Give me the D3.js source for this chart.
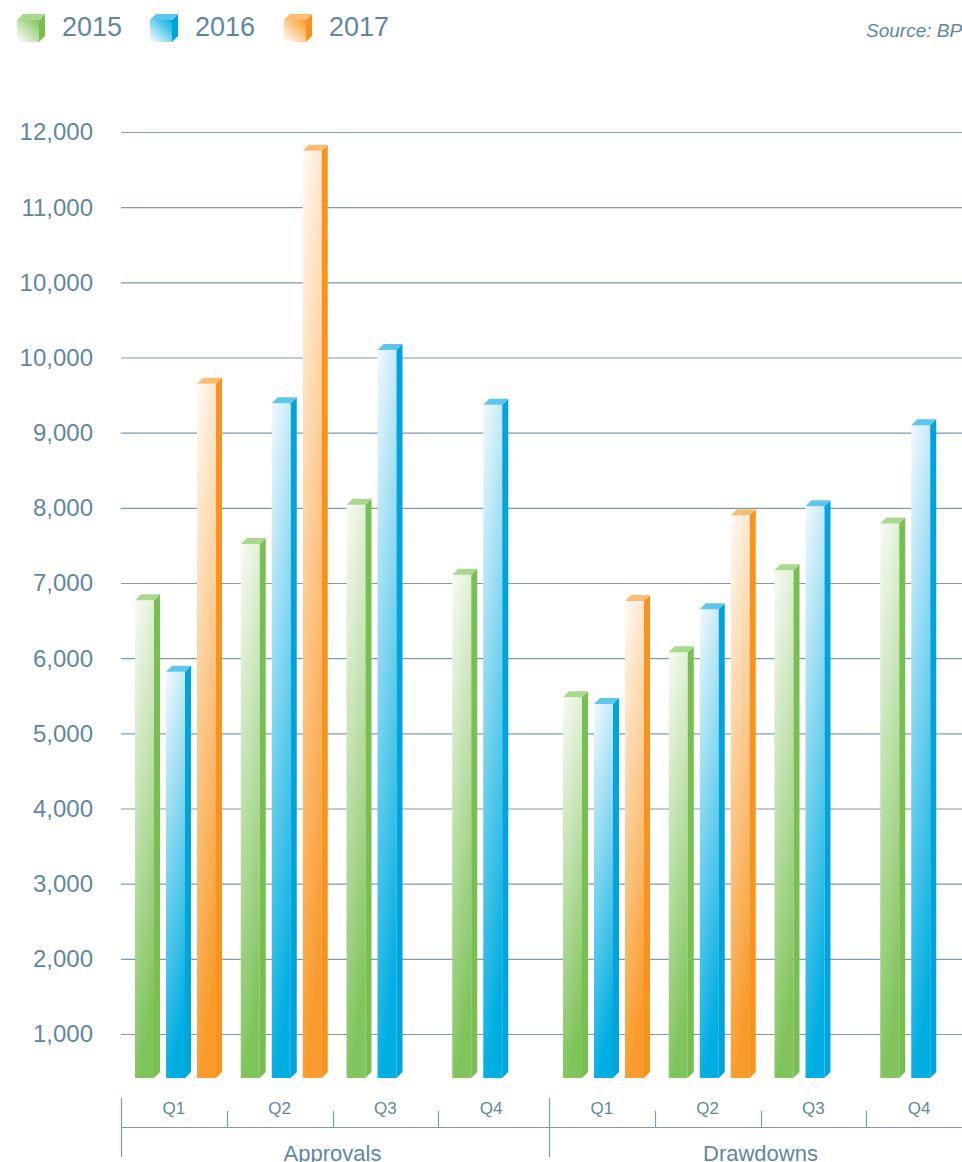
<!DOCTYPE html>
<html>
<head>
<meta charset="utf-8">
<script src="https://cdn.jsdelivr.net/npm/d3@7"></script>
<style>
  body { margin: 0; background: #fff; }
  svg { display: block; font-family: "Liberation Sans", Arial, sans-serif; }
</style>
</head>
<body>
<svg id="chart" width="962" height="1162"></svg>
<script>
// data
const years = ["2015", "2016", "2017"];
const groups = ["Approvals", "Drawdowns"];
const quarters = ["Q1", "Q2", "Q3", "Q4"];
const values2015 = [6770, 7520, 8040, 7110, 5480, 6080, 7170, 7790];
const values2016 = [5820, 9390, 10100, 9370, 5390, 6650, 8020, 9100];
const values2017 = [9650, 12750, null, null, 6760, 7900, null, null];
const yTickLabels = ["1,000", "2,000", "3,000", "4,000", "5,000", "6,000", "7,000",
  "8,000", "9,000", "10,000", "10,000", "11,000", "12,000"];
const sourceText = "Source: BPI";

const seriesValues = { "2015": values2015, "2016": values2016, "2017": values2017 };
const colors = {
  "2015": { side: "#78bf52", bottom: "#80c45c", top: "#f8fbf4", cap: "#a9d98c" },
  "2016": { side: "#00a3da", bottom: "#00aee2", top: "#f3f9fd", cap: "#5cc6ec" },
  "2017": { side: "#f7931e", bottom: "#f99b2b", top: "#fffaf3", cap: "#fbbd74" }
};
const textColor = "#5f87a3";
const gridColor = "#7b9cb3";

const svg = d3.select("#chart");
const width = +svg.attr("width");

// scales
const xGroup = d3.scaleBand().domain(groups).range([121, 977]);
const xQuarter = d3.scaleBand().domain(quarters).range([0, 423]);
const xInner = d3.scaleBand().domain(years).range([14, 107]);
const y = d3.scaleLinear().domain([1000, 13000]).range([1034, 132]);
const baseValue = 415;
const barW = 19, depth = 6;

const cats = [];
groups.forEach(g => quarters.forEach(q => cats.push({ group: g, quarter: q })));
const catX = c => xGroup(c.group) + xQuarter(c.quarter);

// gradients
const defs = svg.append("defs");
years.forEach(yr => {
  const c = colors[yr];
  const g = defs.append("linearGradient").attr("id", "front" + yr)
      .attr("x1", 0).attr("y1", 0).attr("x2", 0.2).attr("y2", 1);
  g.append("stop").attr("offset", "0%").attr("stop-color", c.top);
  g.append("stop").attr("offset", "100%").attr("stop-color", c.bottom);
  const l = defs.append("linearGradient").attr("id", "legend" + yr)
      .attr("x1", 1).attr("y1", 0).attr("x2", 0).attr("y2", 1);
  l.append("stop").attr("offset", "0%").attr("stop-color", c.bottom);
  l.append("stop").attr("offset", "100%").attr("stop-color", "#ffffff");
});

// legend
const legend = svg.append("g").attr("class", "legend");
const legendX = [17, 150, 284];
years.forEach((yr, i) => {
  const lx = legendX[i], ly = 20, s = 22, d = 6;
  const c = colors[yr];
  legend.append("rect").attr("x", lx).attr("y", ly).attr("width", s).attr("height", s)
      .attr("fill", `url(#legend${yr})`);
  legend.append("path")
      .attr("d", `M${lx + s},${ly} L${lx + s + d},${ly - d} L${lx + s + d},${ly + s - d} L${lx + s},${ly + s} Z`)
      .attr("fill", c.side);
  legend.append("path")
      .attr("d", `M${lx},${ly} L${lx + d},${ly - d} L${lx + s + d},${ly - d} L${lx + s},${ly} Z`)
      .attr("fill", c.cap);
  legend.append("text").attr("x", lx + 45).attr("y", 36)
      .attr("font-size", 27).attr("fill", textColor).text(yr);
});

svg.append("text").attr("x", 866).attr("y", 37)
    .attr("font-size", 19).attr("font-style", "italic").attr("fill", textColor)
    .text(sourceText);

// grid + y labels
const tickVals = d3.range(1000, 13001, 1000);
const yAxis = svg.append("g").attr("class", "y-axis");
yAxis.selectAll("line").data(tickVals).join("line")
    .attr("x1", 121).attr("x2", width)
    .attr("y1", d => y(d) + 0.5).attr("y2", d => y(d) + 0.5)
    .attr("stroke", gridColor).attr("stroke-width", 1.2);
yAxis.selectAll("text").data(tickVals).join("text")
    .attr("x", 93).attr("y", d => y(d))
    .attr("dy", "0.35em").attr("text-anchor", "end")
    .attr("font-size", 24).attr("fill", textColor)
    .text((d, i) => yTickLabels[i]);

// bars
const bars = [];
cats.forEach((c, i) => {
  years.forEach(yr => {
    const v = seriesValues[yr][i];
    if (v == null) return;
    bars.push({ cat: c, year: yr, value: v });
  });
});

const yBase = y(baseValue);
const gBars = svg.append("g").attr("class", "bars");
const bar = gBars.selectAll("g.bar").data(bars).join("g").attr("class", "bar");

bar.append("rect")
    .attr("x", d => catX(d.cat) + xInner(d.year))
    .attr("y", d => y(d.value))
    .attr("width", barW)
    .attr("height", d => yBase - y(d.value))
    .attr("fill", d => `url(#front${d.year})`);
bar.append("path")
    .attr("d", d => {
      const x0 = catX(d.cat) + xInner(d.year) + barW, t = y(d.value);
      return `M${x0},${t} L${x0 + depth},${t - depth} L${x0 + depth},${yBase - depth} L${x0},${yBase} Z`;
    })
    .attr("fill", d => colors[d.year].side);
bar.append("path")
    .attr("d", d => {
      const x0 = catX(d.cat) + xInner(d.year), t = y(d.value);
      return `M${x0},${t} L${x0 + depth},${t - depth} L${x0 + barW + depth},${t - depth} L${x0 + barW},${t} Z`;
    })
    .attr("fill", d => colors[d.year].cap);

// category axis
const xAxis = svg.append("g").attr("class", "x-axis")
    .attr("stroke", gridColor).attr("stroke-width", 1.2);
xAxis.append("line").attr("x1", 121).attr("x2", width)
    .attr("y1", 1127.5).attr("y2", 1127.5);
groups.forEach(g => {
  const gx = Math.round(xGroup(g)) + 0.5;
  xAxis.append("line").attr("x1", gx).attr("x2", gx)
      .attr("y1", 1098).attr("y2", 1157);
  quarters.slice(1).forEach(q => {
    const qx = Math.round(xGroup(g) + xQuarter(q)) + 0.5;
    xAxis.append("line").attr("x1", qx).attr("x2", qx).attr("y1", 1111).attr("y2", 1127);
  });
});
svg.append("g").selectAll("text").data(cats).join("text")
    .attr("x", d => catX(d) + xQuarter.bandwidth() / 2).attr("y", 1108)
    .attr("dy", "0.35em").attr("text-anchor", "middle")
    .attr("font-size", 17).attr("fill", textColor)
    .text(d => d.quarter);
svg.append("g").selectAll("text").data(groups).join("text")
    .attr("x", g => xGroup(g) + xQuarter.bandwidth() * 2).attr("y", 1161)
    .attr("text-anchor", "middle")
    .attr("font-size", 22).attr("fill", textColor)
    .text(g => g);
</script>
</body>
</html>
